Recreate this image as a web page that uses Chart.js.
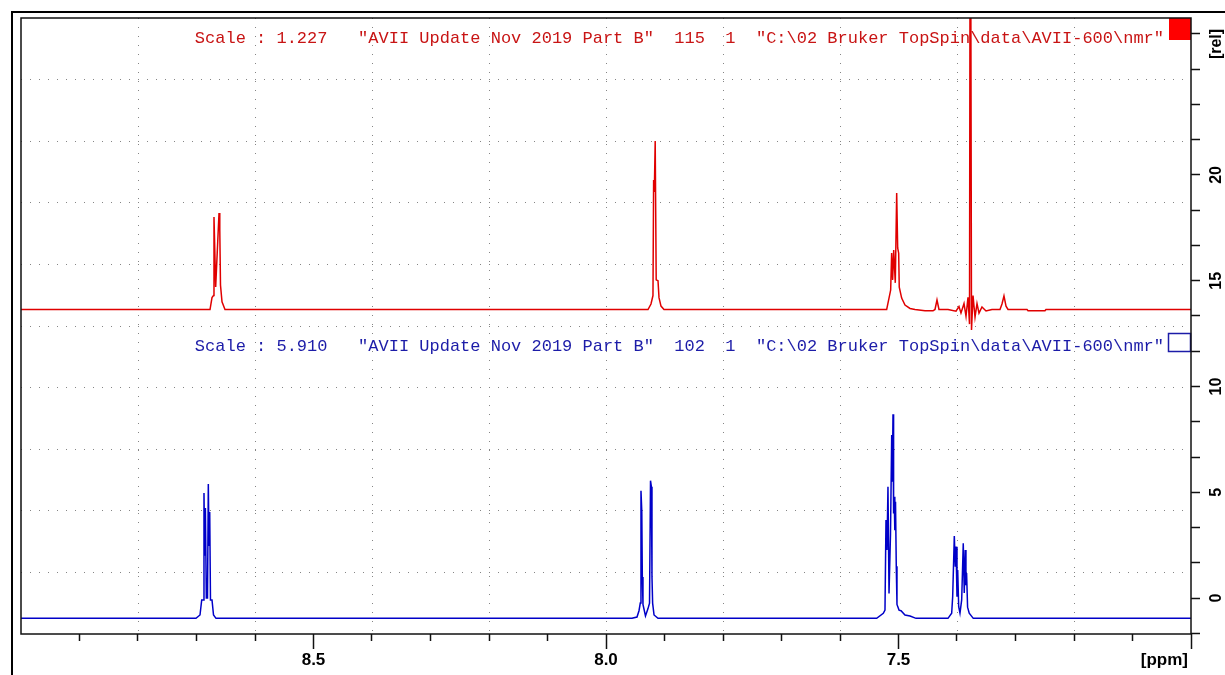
<!DOCTYPE html>
<html>
<head>
<meta charset="utf-8">
<title>1H NMR overlay - AVII Update Nov 2019 Part B</title>
<script src="https://cdn.jsdelivr.net/npm/chart.js"></script>
<style>
  html, body { margin: 0; padding: 0; background: #fff; }
  #frame {
    position: absolute; left: 11px; top: 11px; width: 1214px; height: 664px;
    border-left: 2px solid #000; border-top: 2px solid #000; box-sizing: border-box;
  }
  #nmr { position: absolute; left: 0; top: 0; }
</style>
</head>
<body>
<div id="frame"></div>
<canvas id="nmr" width="1225" height="675"></canvas>
<script>
// experiment 115 (red, upper trace): chemical shift [ppm] / intensity [rel]
const redPpm = [
  9.0,
  8.6769, 8.6735, 8.6709, 8.6701, 8.6672, 8.6615, 8.6602, 8.6590, 8.6564, 8.6513,
  7.9282, 7.9231, 7.9197, 7.9186, 7.9174, 7.9159, 7.9142, 7.9111, 7.9094, 7.9060, 7.9009,
  7.5202, 7.5134, 7.5117, 7.5100, 7.5082, 7.5055, 7.5031, 7.5014, 7.4997, 7.4987, 7.4946, 7.4889, 7.4803, 7.4718,
  7.4547, 7.4410, 7.4376, 7.4342, 7.4308,
  7.4154, 7.4017, 7.3966, 7.3932, 7.3880, 7.3846, 7.3812, 7.3786, 7.3772, 7.3766, 7.3752, 7.3726, 7.3692, 7.3658, 7.3624, 7.3573, 7.3504, 7.3402,
  7.3265, 7.3231, 7.3197, 7.3162, 7.3128,
  7.2803, 7.2786, 7.2496, 7.2479,
  7.0
];
const redInt = [
  13.64,
  13.64, 14.20, 14.30, 18.01, 14.70, 18.20, 17.40, 14.80, 14.00, 13.64,
  13.64, 13.90, 14.30, 19.76, 19.20, 21.61, 15.04, 15.00, 14.20, 13.80, 13.64,
  13.64, 14.56, 16.31, 15.04, 16.45, 14.90, 19.15, 16.55, 16.30, 14.70, 14.18, 13.85, 13.69, 13.64,
  13.58, 13.58, 13.64, 14.09, 13.64,
  13.64, 13.56, 13.78, 13.47, 13.92, 13.32, 14.22, 12.95, 40.00, 40.00, 12.67, 14.30, 13.28, 13.92, 13.47, 13.76, 13.57, 13.64,
  13.64, 13.90, 14.28, 13.80, 13.64,
  13.64, 13.58, 13.58, 13.64,
  13.64
];

// experiment 102 (blue, lower trace)
const bluePpm = [
  9.0,
  8.7009, 8.6940, 8.6911, 8.6885, 8.6872, 8.6860, 8.6848, 8.6832, 8.6812, 8.6798, 8.6786, 8.6774, 8.6761, 8.6735, 8.6709, 8.6667,
  7.9556, 7.9470, 7.9436, 7.9414, 7.9402, 7.9388, 7.9379, 7.9368, 7.9325, 7.9282, 7.9256, 7.9239, 7.9224, 7.9214, 7.9203, 7.9179, 7.9111,
  7.5373, 7.5260, 7.5231, 7.5214, 7.5197, 7.5180, 7.5162, 7.5137, 7.5116, 7.5106, 7.5094, 7.5084, 7.5074, 7.5063, 7.5051, 7.5038, 7.5026, 7.4991, 7.4957, 7.4889, 7.4803, 7.4701,
  7.4154, 7.4091, 7.4074, 7.4046, 7.4029, 7.4017, 7.4000, 7.3988, 7.3971, 7.3949, 7.3920, 7.3893, 7.3876, 7.3859, 7.3847, 7.3836, 7.3819, 7.3791, 7.3722,
  7.0
];
const blueInt = [
  -0.96,
  -0.96, -0.80, -0.09, -0.09, 4.96, 2.00, 4.26, 0.00, 0.00, 5.39, 2.50, 4.07, -0.09, -0.09, -0.80, -0.96,
  -0.96, -0.90, -0.60, -0.24, 5.07, 4.08, 1.00, -0.30, -0.85, -0.50, -0.24, 5.55, 5.26, 1.00, -0.24, -0.80, -0.96,
  -0.96, -0.72, -0.57, 3.69, 2.27, 5.26, 0.22, 3.00, 7.71, 5.50, 8.69, 4.00, 4.79, 3.20, 4.55, 1.50, -0.30, -0.57, -0.60, -0.80, -0.85, -0.96,
  -0.96, -0.72, 0.06, 2.93, 1.48, 2.43, 0.06, 1.32, -0.41, -0.71, -0.09, 2.59, 0.24, 2.27, 0.60, 1.18, -0.43, -0.72, -0.96,
  -0.96
];

const xTickLabels = ['8.5', '8.0', '7.5'];
const yTickLabels = ['0', '5', '10', '15', '20'];
const xUnit = '[ppm]';
const yUnit = '[rel]';
const redLabel = 'Scale : 1.227   "AVII Update Nov 2019 Part B"  115  1  "C:\\02 Bruker TopSpin\\data\\AVII-600\\nmr"';
const blueLabel = 'Scale : 5.910   "AVII Update Nov 2019 Part B"  102  1  "C:\\02 Bruker TopSpin\\data\\AVII-600\\nmr"';

const RED = '#e00000';
const BLUE = '#0000c8';
const GRID = '#858585';
const INK = '#111';

function toPoints(xs, ys) {
  return xs.map((x, i) => ({ x: x, y: ys[i] }));
}

function isHalf(v) {
  return Math.abs(v * 2 - Math.round(v * 2)) < 1e-6;
}

// header lines, legend swatches, plot frame and unit labels (TopSpin style)
const topspinDecor = {
  id: 'topspinDecor',
  afterDatasetsDraw(chart) {
    const { ctx, chartArea: a } = chart;
    ctx.save();
    ctx.font = '17px "Liberation Mono", "Courier New", monospace';
    ctx.textAlign = 'right';
    ctx.textBaseline = 'middle';
    ctx.fillStyle = '#c81414';
    ctx.fillText(redLabel, a.right - 27, a.top + 20);
    ctx.fillStyle = '#1c1ca8';
    ctx.fillText(blueLabel, a.right - 27, a.top + 328);

    ctx.fillStyle = '#ff0000';
    ctx.fillRect(a.right - 22, a.top, 22, 22);
    ctx.strokeStyle = '#1c1ca8';
    ctx.lineWidth = 1.5;
    ctx.strokeRect(a.right - 22.5, a.top + 315.5, 22, 18);

    ctx.strokeStyle = INK;
    ctx.lineWidth = 1.5;
    ctx.strokeRect(a.left, a.top, a.right - a.left, a.bottom - a.top);

    ctx.fillStyle = '#000';
    ctx.font = 'bold 17px "Liberation Sans", Arial, sans-serif';
    ctx.textAlign = 'right';
    ctx.fillText(xUnit, a.right - 3, a.bottom + 26);

    ctx.translate(a.right + 26, a.top + 26);
    ctx.rotate(-Math.PI / 2);
    ctx.font = 'bold 16px "Liberation Sans", Arial, sans-serif';
    ctx.textAlign = 'center';
    ctx.fillText(yUnit, 0, 0);
    ctx.restore();
  }
};

Chart.defaults.font.family = '"Liberation Sans", Arial, sans-serif';

new Chart(document.getElementById('nmr'), {
  type: 'line',
  data: {
    datasets: [
      {
        label: '115',
        data: toPoints(redPpm, redInt),
        borderColor: RED,
        borderWidth: 1.5,
        pointRadius: 0,
        tension: 0,
        fill: false
      },
      {
        label: '102',
        data: toPoints(bluePpm, blueInt),
        borderColor: BLUE,
        borderWidth: 1.5,
        pointRadius: 0,
        tension: 0,
        fill: false
      }
    ]
  },
  options: {
    responsive: false,
    animation: false,
    events: [],
    layout: { autoPadding: false, padding: { left: 21, top: 18, right: 0, bottom: 0 } },
    plugins: { legend: { display: false }, tooltip: { enabled: false } },
    scales: {
      x: {
        type: 'linear',
        position: 'bottom',
        reverse: true,
        min: 7.0,
        max: 9.0,
        ticks: {
          stepSize: 0.1,
          autoSkip: false,
          maxTicksLimit: 100,
          maxRotation: 0,
          padding: 1,
          color: '#000',
          font: { size: 17, weight: 'bold' },
          callback: (value) => {
            const s = Number(value).toFixed(1);
            return xTickLabels.includes(s) ? s : '';
          }
        },
        grid: {
          drawOnChartArea: false,
          tickLength: 15,
          tickWidth: 1.5,
          tickColor: (c) => (c.tick && Math.abs(c.tick.value - 9) < 1e-6 ? 'rgba(0,0,0,0)' : INK),
          tickBorderDash: (c) => (c.tick && isHalf(c.tick.value) ? [] : [7, 30])
        },
        border: { display: false },
        afterFit: (s) => { s.height = 41; }
      },
      y: {
        type: 'linear',
        position: 'right',
        min: -1.70,
        max: 27.42,
        ticks: {
          stepSize: 5 / 3,
          includeBounds: false,
          autoSkip: false,
          maxTicksLimit: 100,
          minRotation: 90,
          maxRotation: 90,
          crossAlign: 'center',
          padding: 8,
          color: '#000',
          font: { size: 16, weight: 'bold' },
          callback: (value) => {
            const r = Math.round(value);
            return Math.abs(value - r) < 1e-6 && yTickLabels.includes(String(r)) ? String(r) : '';
          }
        },
        grid: { drawOnChartArea: false, tickLength: 9, tickWidth: 1.5, tickColor: INK },
        border: { display: false },
        afterFit: (s) => { s.width = 34; }
      },
      // TopSpin grid: 10 x 10 equal divisions of the plot window
      xg: {
        type: 'linear',
        position: 'top',
        min: 0,
        max: 10,
        ticks: { display: false, stepSize: 1 },
        grid: {
          drawTicks: false,
          lineWidth: 1,
          color: (c) => (c.tick && (c.tick.value === 0 || c.tick.value === 10) ? 'rgba(0,0,0,0)' : GRID)
        },
        border: { display: false, dash: [1, 8] },
        afterFit: (s) => { s.height = 0; }
      },
      yg: {
        type: 'linear',
        position: 'left',
        min: 0,
        max: 10,
        ticks: { display: false, stepSize: 1 },
        grid: {
          drawTicks: false,
          lineWidth: 1,
          color: (c) => (c.tick && (c.tick.value === 0 || c.tick.value === 10) ? 'rgba(0,0,0,0)' : GRID)
        },
        border: { display: false, dash: [1, 8] },
        afterFit: (s) => { s.width = 0; }
      }
    }
  },
  plugins: [topspinDecor]
});
</script>
</body>
</html>
